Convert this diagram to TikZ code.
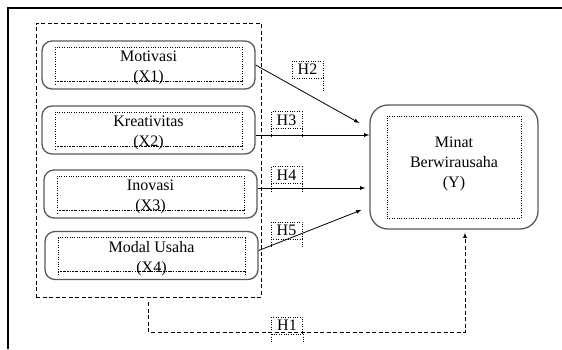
\documentclass[tikz,border=0pt]{standalone}
\usepackage{fontspec}
\setmainfont{Liberation Serif}
\usetikzlibrary{calc}

\begin{document}
\begin{tikzpicture}[x=1pt,y=-1pt,
		varbox/.style={draw=black!65,line width=1.3pt,rounded corners=10pt,minimum width=213pt,minimum height=48pt},
		inbox/.style={draw,dotted,minimum width=187pt,minimum height=34pt},
		vartext/.style={align=center,font=\fontsize{16}{20}\selectfont},
		hlab/.style={draw,dotted,minimum width=31pt,minimum height=17pt,inner sep=0pt,font=\fontsize{16}{17}\selectfont},
		grpline/.style={dash pattern=on 4pt off 2.5pt,line width=0.8pt}]
		\useasboundingbox (0,0) rectangle (562,349);
		% frame of the scan
		\draw[line width=2.2pt] (8,349) -- (8,8) -- (562,8);
		% group of the independent variables
		\node[grpline,draw,minimum width=225pt,minimum height=274pt] (grp) at (148.5,160) {};
		\foreach \i/\x/\y/\txt in {1/148.5/65/{Motivasi\\(X1)},2/148.5/130/{Kreativitas\\(X2)},3/150.5/194/{Inovasi\\(X3)},4/151.5/255.5/{Modal Usaha\\(X4)}}
		{
			\node[varbox] (b\i) at (\x,\y) {};
			\node[inbox] (i\i) at (\x,\y-1) {};
			\node[vartext] (t\i) at (\x,\y+3) {\txt};
			\draw[dotted,line width=1.1pt] (i\i.south west) -- (i\i.south east);
			\draw[dotted] (i\i.south west) -- ++(0,4) (i\i.south east) -- ++(0,4);
		}
		% dependent variable
		\node[varbox,rounded corners=18pt,minimum width=168pt,minimum height=124pt] (y) at (454,167) {};
		\node[draw,dotted,minimum width=134pt,minimum height=102pt] (iy) at (454,167) {};
		\node[vartext] (ty) at (454,164) {Minat\\Berwirausaha\\(Y)};
		% hypotheses
		\path[-latex,line width=0.8pt]
		(b1.east) edge ($(y.west)+(-10,-44)$)
		($(b2.east)+(0,5)$) edge ($(y.west)+(0,-32)$)
		($(b3.east)+(0,-6)$) edge ($(y.west)+(-4,21)$)
		($(b4.east)+(0,-5)$) edge ($(y.west)+(-8,43)$);
		\draw[grpline,-latex,shorten <=5pt,shorten >=3pt] (grp.south) -- ++(0,35) -| ([xshift=11pt]y.south);
		\node[hlab] (h2) at (307.5,69.5) {H2};
		\node[hlab] (h3) at (286.5,120) {H3};
		\node[hlab] (h4) at (286.5,175) {H4};
		\node[hlab] (h5) at (286.5,230.5) {H5};
		\node[hlab] (h1) at (287,325.5) {H1};
		\draw[dotted] (h2.south east) -- ++(0,13);
		\foreach \h in {h3,h4,h5,h1}
		\draw[dotted] (\h.south west) -- ++(0,9) (\h.south east) -- ++(0,9);
\end{tikzpicture}
\end{document}
